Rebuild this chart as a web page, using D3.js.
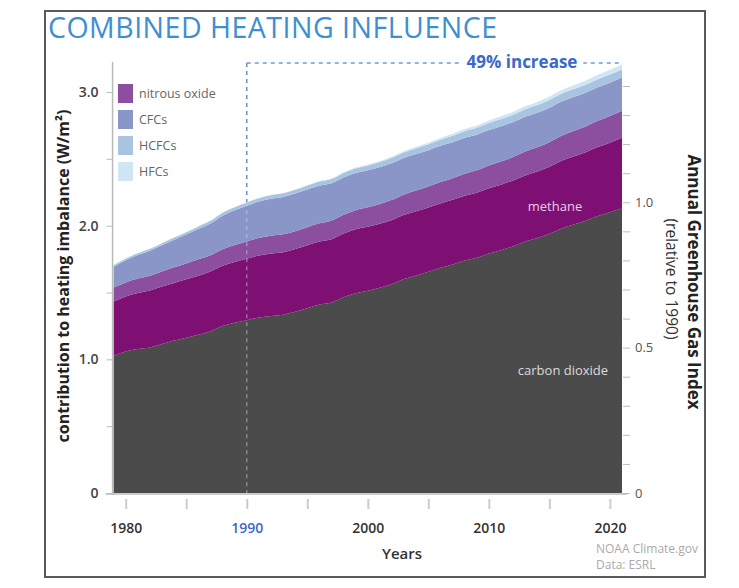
<!DOCTYPE html>
<html>
<head>
<meta charset="utf-8">
<script src="https://cdn.jsdelivr.net/npm/d3@7"></script>
<style>
  body { margin: 0; background: #fff; }
  svg { display: block; font-family: "Open Sans", "Noto Sans", sans-serif; }
</style>
</head>
<body>
<svg id="chart" width="739" height="588"></svg>
<script>
// Radiative forcing by gas, W/m2 (1979-2021)
const years = d3.range(1979, 2022);
const co2 = [1.027, 1.058, 1.077, 1.089, 1.115, 1.140, 1.162, 1.184, 1.211, 1.250, 1.274,
             1.293, 1.313, 1.324, 1.334, 1.356, 1.383, 1.410, 1.426, 1.465, 1.495,
             1.513, 1.535, 1.564, 1.601, 1.627, 1.655, 1.685, 1.710, 1.739, 1.760,
             1.791, 1.817, 1.846, 1.882, 1.908, 1.939, 1.979, 2.009, 2.037, 2.072,
             2.101, 2.129];
const methane = [0.406, 0.413, 0.420, 0.426, 0.429, 0.432, 0.437, 0.442, 0.447, 0.451, 0.455,
                 0.459, 0.463, 0.467, 0.467, 0.469, 0.471, 0.472, 0.473, 0.476, 0.479,
                 0.479, 0.479, 0.479, 0.481, 0.481, 0.481, 0.481, 0.483, 0.485, 0.487,
                 0.489, 0.490, 0.492, 0.494, 0.497, 0.502, 0.507, 0.509, 0.512, 0.516,
                 0.520, 0.528];
const nitrous = [0.104, 0.104, 0.107, 0.111, 0.113, 0.116, 0.118, 0.122, 0.120, 0.123, 0.126,
                 0.129, 0.131, 0.133, 0.134, 0.134, 0.135, 0.136, 0.138, 0.140, 0.142,
                 0.145, 0.148, 0.150, 0.152, 0.155, 0.157, 0.160, 0.162, 0.165, 0.167,
                 0.170, 0.173, 0.175, 0.178, 0.181, 0.184, 0.187, 0.190, 0.193, 0.196,
                 0.199, 0.202];
const cfcs = [0.155, 0.166, 0.176, 0.186, 0.196, 0.206, 0.216, 0.227, 0.238, 0.251, 0.261,
              0.268, 0.274, 0.278, 0.280, 0.281, 0.281, 0.281, 0.280, 0.279, 0.278,
              0.277, 0.276, 0.275, 0.274, 0.273, 0.272, 0.271, 0.269, 0.268, 0.267,
              0.265, 0.264, 0.262, 0.261, 0.259, 0.258, 0.256, 0.255, 0.253, 0.252,
              0.250, 0.249];
const hcfcs = [0.012, 0.013, 0.014, 0.015, 0.016, 0.017, 0.018, 0.019, 0.020, 0.021, 0.022,
               0.024, 0.025, 0.026, 0.027, 0.028, 0.030, 0.031, 0.032, 0.034, 0.035,
               0.037, 0.038, 0.040, 0.041, 0.043, 0.044, 0.046, 0.048, 0.050, 0.051,
               0.053, 0.054, 0.055, 0.056, 0.057, 0.058, 0.058, 0.059, 0.060, 0.060,
               0.061, 0.061];
const hfcs = [0.001, 0.001, 0.001, 0.001, 0.001, 0.001, 0.002, 0.002, 0.002, 0.002, 0.002,
              0.002, 0.002, 0.003, 0.003, 0.003, 0.004, 0.004, 0.005, 0.006, 0.006,
              0.007, 0.008, 0.009, 0.010, 0.011, 0.012, 0.013, 0.015, 0.016, 0.017,
              0.018, 0.020, 0.021, 0.022, 0.024, 0.026, 0.027, 0.029, 0.031, 0.033,
              0.035, 0.037];

const gasKeys = ['co2', 'methane', 'nitrous', 'cfcs', 'hcfcs', 'hfcs'];
const gasColors = {
    co2: '#4b4b4b',
    methane: '#7e0f73',
    nitrous: '#8c4e9f',
    cfcs: '#8b96c8',
    hcfcs: '#a9c4e0',
    hfcs: '#d0e6f4'
};
const legendKeys = ['nitrous', 'cfcs', 'hcfcs', 'hfcs'];
const legendLabels = ['nitrous oxide', 'CFCs', 'HCFCs', 'HFCs'];
const xTickYears = [1980, 1990, 2000, 2010, 2020];
const baseYear = 1990;
const increaseText = '49% increase';

// Build rows for d3.stack
const rows = years.map((yr, i) => ({
    year: yr, co2: co2[i], methane: methane[i], nitrous: nitrous[i],
    cfcs: cfcs[i], hcfcs: hcfcs[i], hfcs: hfcs[i]
}));
const totals = rows.map(r => gasKeys.reduce((s, k) => s + r[k], 0));
const baseTotal = totals[years.indexOf(baseYear)];

const svg = d3.select('#chart');

const plot = { left: 113.6, right: 622, top: 62, bottom: 493 };

const x = d3.scaleLinear().domain([1979, 2021]).range([plot.left, plot.right]);
const y = d3.scaleLinear().domain([0, 3.0]).range([plot.bottom, 92]);
const yTop = y.invert(plot.top);
const yRight = d3.scaleLinear().domain([0, yTop / baseTotal]).range([plot.bottom, plot.top]);

// Frame
svg.append('rect')
    .attr('x', 45).attr('y', 11)
    .attr('width', 660).attr('height', 566)
    .attr('fill', 'none')
    .attr('stroke', '#5a5a5a')
    .attr('stroke-width', 2);

// Title
svg.append('text')
    .attr('x', 48).attr('y', 38)
    .attr('fill', '#3d8fd1')
    .attr('font-size', 28.5)
    .attr('font-weight', 400)
    .attr('letter-spacing', 0.5)
    .text('COMBINED HEATING INFLUENCE');

// Stacked areas
const stack = d3.stack().keys(gasKeys);
const series = stack(rows);
const area = d3.area()
    .x(d => x(d.data.year))
    .y0(d => y(d[0]))
    .y1(d => y(d[1]))
    .curve(d3.curveMonotoneX);

svg.append('g')
    .selectAll('path')
    .data(series)
    .join('path')
    .attr('fill', d => gasColors[d.key])
    .attr('d', area);

// 1990 reference line
const xBase = x(baseYear);
const baseTop = y(baseTotal);
svg.append('line')
    .attr('x1', xBase).attr('x2', xBase)
    .attr('y1', baseTop).attr('y2', plot.bottom)
    .attr('stroke', 'rgba(205,210,235,0.45)')
    .attr('stroke-width', 1.5)
    .attr('stroke-dasharray', '4,4');
svg.append('line')
    .attr('x1', xBase).attr('x2', xBase)
    .attr('y1', plot.top + 1).attr('y2', baseTop)
    .attr('stroke', '#6f95e2')
    .attr('stroke-width', 1.6)
    .attr('stroke-dasharray', '4,4');
svg.append('line')
    .attr('x1', xBase).attr('x2', plot.right)
    .attr('y1', plot.top + 1).attr('y2', plot.top + 1)
    .attr('stroke', '#6f95e2')
    .attr('stroke-width', 1.6)
    .attr('stroke-dasharray', '4,4');

const incLabel = svg.append('text')
    .attr('x', 522).attr('y', 68)
    .attr('text-anchor', 'middle')
    .attr('fill', '#3a68cc')
    .attr('font-size', 17)
    .attr('font-weight', 700)
    .text(increaseText);
const bb = incLabel.node().getBBox();
svg.insert('rect', () => incLabel.node())
    .attr('x', bb.x - 6).attr('y', bb.y)
    .attr('width', bb.width + 12).attr('height', bb.height)
    .attr('fill', '#fff');

// In-area labels
svg.append('text')
    .attr('x', 555).attr('y', 211)
    .attr('text-anchor', 'middle')
    .attr('fill', '#e6cde4')
    .attr('font-size', 13)
    .text('methane');
svg.append('text')
    .attr('x', 563).attr('y', 375)
    .attr('text-anchor', 'middle')
    .attr('fill', '#dcdcdc')
    .attr('font-size', 13)
    .text('carbon dioxide');

// Left axis
const leftAxis = d3.axisLeft(y)
    .tickValues(d3.range(0, 3.01, 0.5))
    .tickSize(6)
    .tickPadding(8)
    .tickFormat(d => d === 0 ? '0' : (d % 1 === 0 ? d3.format('.1f')(d) : ''));
const gl = svg.append('g')
    .attr('transform', `translate(${plot.left - 1},0)`)
    .call(leftAxis);
gl.select('.domain').remove();
gl.append('line')
    .attr('y1', plot.top).attr('y2', plot.bottom + 2)
    .attr('stroke', '#bbb').attr('stroke-width', 1.5);
gl.selectAll('.tick line').attr('stroke', '#bbb');
gl.selectAll('.tick text')
    .attr('fill', '#444')
    .attr('font-size', 14)
    .attr('font-weight', 600)
    .attr('font-family', '"Open Sans", sans-serif');

// Right axis
const rightAxis = d3.axisRight(yRight)
    .ticks(15)
    .tickSize(7)
    .tickPadding(5)
    .tickFormat(d => {
        const r = Math.round(d * 10) / 10;
        if (r === 0) return '0';
        if (r === 0.5 || r === 1) return d3.format('.1f')(r);
        return '';
    });
const gr = svg.append('g')
    .attr('transform', `translate(${plot.right + 1},0)`)
    .call(rightAxis);
gr.select('.domain').remove();
gr.selectAll('.tick line').attr('stroke', '#bbb');
gr.selectAll('.tick text')
    .attr('fill', '#555')
    .attr('font-size', 13)
    .attr('font-family', '"Open Sans", sans-serif');

// Bottom axis
svg.append('line')
    .attr('x1', plot.left - 8).attr('x2', plot.right + 5)
    .attr('y1', plot.bottom + 1).attr('y2', plot.bottom + 1)
    .attr('stroke', '#bbb').attr('stroke-width', 1.5);
const gx = svg.append('g')
    .attr('transform', `translate(0,${plot.bottom + 6})`)
    .call(d3.axisBottom(x)
        .tickValues(d3.range(1980, 2021, 5))
        .tickSize(10)
        .tickPadding(14)
        .tickFormat(d => xTickYears.includes(d) ? String(d) : ''));
gx.select('.domain').remove();
gx.selectAll('.tick line').attr('stroke', '#ccc').attr('stroke-width', 2);
gx.selectAll('.tick text')
    .attr('fill', d => d === baseYear ? '#3a68cc' : '#333')
    .attr('font-size', 14)
    .attr('font-weight', 600)
    .attr('font-family', '"Open Sans", sans-serif');

// Axis titles
svg.append('text')
    .attr('x', 402).attr('y', 559)
    .attr('text-anchor', 'middle')
    .attr('fill', '#333')
    .attr('font-size', 15)
    .attr('font-weight', 600)
    .text('Years');

svg.append('text')
    .attr('transform', 'translate(69,276) rotate(-90)')
    .attr('text-anchor', 'middle')
    .attr('fill', '#222')
    .attr('font-size', 16)
    .attr('font-weight', 700)
    .text('contribution to heating imbalance (W/m²)');

svg.append('text')
    .attr('transform', 'translate(688,282) rotate(90)')
    .attr('text-anchor', 'middle')
    .attr('fill', '#222')
    .attr('font-size', 17)
    .attr('font-weight', 700)
    .text('Annual Greenhouse Gas Index');
svg.append('text')
    .attr('transform', 'translate(666,279) rotate(90)')
    .attr('text-anchor', 'middle')
    .attr('fill', '#333')
    .attr('font-size', 15.5)
    .text('(relative to 1990)');

// Legend
const legend = svg.append('g').attr('transform', 'translate(118,84)');
const item = legend.selectAll('g')
    .data(legendKeys)
    .join('g')
    .attr('transform', (d, i) => `translate(0,${i * 26})`);
item.append('rect')
    .attr('width', 15).attr('height', 19)
    .attr('fill', d => gasColors[d]);
item.append('text')
    .attr('x', 21).attr('y', 14)
    .attr('fill', '#666')
    .attr('font-size', 12.5)
    .text((d, i) => legendLabels[i]);

// Credits
svg.append('text')
    .attr('x', 596).attr('y', 553)
    .attr('fill', '#aaa')
    .attr('font-size', 12)
    .text('NOAA Climate.gov');
svg.append('text')
    .attr('x', 596).attr('y', 569)
    .attr('fill', '#aaa')
    .attr('font-size', 12)
    .text('Data: ESRL');
</script>
</body>
</html>
